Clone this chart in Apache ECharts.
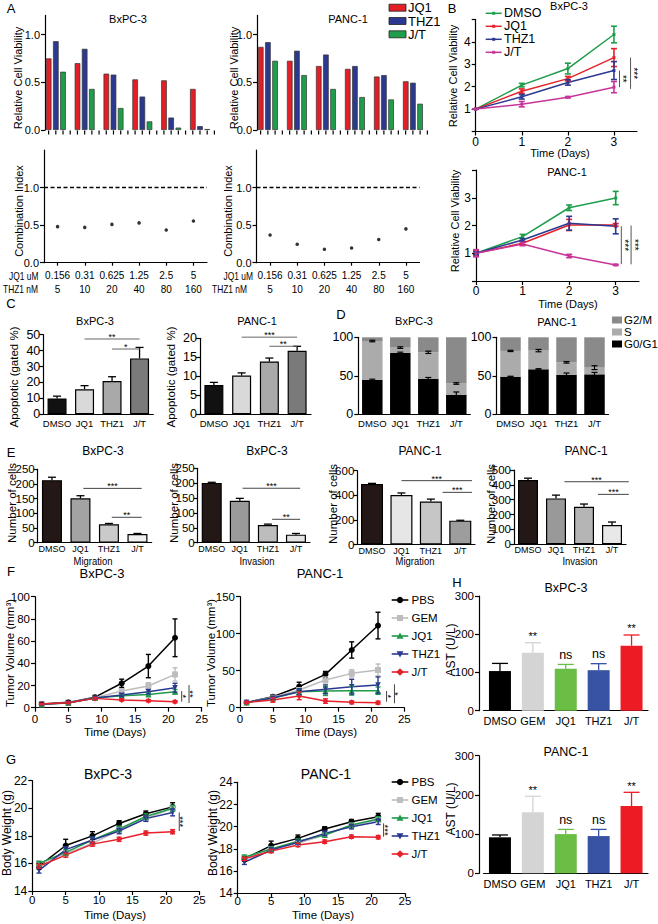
<!DOCTYPE html>
<html><head><meta charset="utf-8">
<script src="https://cdn.jsdelivr.net/npm/echarts@6/dist/echarts.min.js"></script>
<style>html,body{margin:0;padding:0;background:#fff}#c{width:658px;height:924px}</style>
</head><body><div id="c"></div>
<script>
// ================= DATA =================
// Panel A
const jq1Doses = ['0.156','0.31','0.625','1.25','2.5','5'];
const thz1Doses = ['5','10','20','40','80','160'];
const aBxJQ1  = [0.75, 0.70, 0.59, 0.53, 0.52, 0.43];
const aBxTHZ1 = [0.93, 0.85, 0.58, 0.35, 0.13, 0.04];
const aBxJT   = [0.61, 0.43, 0.23, 0.09, 0.025, 0.01];
const aPaJQ1  = [0.87, 0.725, 0.67, 0.64, 0.56, 0.51];
const aPaTHZ1 = [0.92, 0.83, 0.79, 0.67, 0.575, 0.495];
const aPaJT   = [0.725, 0.575, 0.43, 0.345, 0.32, 0.275];
const ciBx = [0.48, 0.47, 0.51, 0.53, 0.435, 0.555];
const ciPa = [0.37, 0.245, 0.18, 0.196, 0.31, 0.45];
const aTicks = [0, 0.5, 1.0];
// Panel B
const bDays = [0, 1, 2, 3];
const bBxDMSO = [1, 2.07, 2.81, 4.33], bBxDMSOe = [0, 0.08, 0.24, 0.37];
const bBxJQ1  = [1, 1.80, 2.36, 3.30], bBxJQ1e  = [0, 0.10, 0.10, 0.40];
const bBxTHZ1 = [1, 1.55, 2.19, 2.72], bBxTHZ1e = [0, 0.10, 0.12, 0.40];
const bBxJT   = [1, 1.22, 1.53, 1.98], bBxJTe   = [0, 0.12, 0.03, 0.25];
const bPaDMSO = [1, 1.60, 2.64, 2.99], bPaDMSOe = [0.08, 0.08, 0.10, 0.24];
const bPaJQ1  = [1, 1.36, 2.02, 2.02], bPaJQ1e  = [0.10, 0.06, 0.20, 0.05];
const bPaTHZ1 = [1, 1.48, 2.08, 1.97], bPaTHZ1e = [0.05, 0.05, 0.25, 0.27];
const bPaJT   = [1, 1.33, 0.90, 0.58], bPaJTe   = [0.13, 0.06, 0.06, 0.02];
const bXTicks = [0, 1, 2, 3];
const bBxYLabels = [1, 2, 3, 4], bBxYTicks = [0, 1, 2, 3, 4, 5];
const bPaYLabels = [1, 2, 3], bPaYTicks = [0, 1, 2, 3, 4];
const bSigBx = ['**', '***'], bSigPa = ['***', '***'];
// Panel C
const cCats = ['DMSO', 'JQ1', 'THZ1', 'J/T'];
const cBx = [10, 15.7, 20.9, 35.1], cBxE = [1.4, 2.3, 2.7, 6.9];
const cPa = [7.7, 10.2, 13.9, 16.7], cPaE = [0.7, 0.7, 0.9, 1.2];
const cBxTicks = [0, 10, 20, 30, 40, 50], cPaTicks = [0, 5, 10, 15, 20];
const cSigBx = ['**', '*'], cSigPa = ['***', '**'];
// Panel D
const dBxG0 = [44.6, 79.7, 46.3, 25.5], dBxS = [50.6, 6.9, 34.2, 14.5], dBxG2 = [4.8, 13.4, 19.5, 60.0];
const dBxG0e = [1.0, 1.0, 1.5, 3.5], dBxSe = [1.0, 1.0, 1.5, 1.0];
const dPaG0 = [48.9, 58.4, 51.1, 51.9], dPaS = [33.4, 24.3, 16.4, 8.7], dPaG2 = [17.7, 17.3, 32.5, 39.4];
const dPaG0e = [0.5, 0.8, 2.5, 2.5], dPaSe = [0.8, 1.5, 1.0, 2.5];
const dTicks = [0, 50, 100];
const dPhases = ['G2/M', 'S', 'G0/G1'];
// Panel E
const eBxMig = [213, 151, 62.5, 29.5], eBxMigE = [10, 9, 3, 2];
const eBxInv = [201, 141, 59.4, 27],   eBxInvE = [2, 8, 3, 4];
const ePaMig = [492, 403, 350, 194],   ePaMigE = [5, 16, 19, 3];
const ePaInv = [433, 309, 253, 130],   ePaInvE = [12, 22, 18, 20];
const eBxTicks = [0, 50, 100, 150, 200, 250];
const ePaMigTicks = [0, 200, 400, 600], ePaInvTicks = [0, 100, 200, 300, 400, 500];
// Panel F
const fDays = [1, 5, 9, 13, 17, 21];
const fBxPBS  = [3.3, 4.8, 9.5, 22, 37.5, 63],  fBxPBSe  = [0.8, 1, 1, 3.7, 10.5, 17];
const fBxGEM  = [3.1, 4.5, 9.0, 15, 19.5, 30],  fBxGEMe  = [0.5, 0.8, 1, 2, 3, 6];
const fBxJQ1  = [3.0, 4.3, 8.7, 10.8, 12, 14.4], fBxJQ1e = [0.5, 0.7, 1, 1.5, 1.5, 2];
const fBxTHZ1 = [3.0, 4.4, 8.8, 11.4, 14.4, 18], fBxTHZ1e = [0.5, 0.7, 1, 1.5, 2, 4];
const fBxJT   = [3.3, 4.5, 8.4, 7.0, 6.3, 5.4], fBxJTe   = [0.5, 0.7, 1, 1, 1, 1];
const fPaPBS  = [7, 14.9, 28.4, 45, 78, 111], fPaPBSe  = [1, 2, 6, 4, 11, 18];
const fPaGEM  = [7, 14, 24, 37.4, 46.4, 51],  fPaGEMe  = [1, 2, 3, 4, 5, 8];
const fPaJQ1  = [7, 12.6, 21.6, 22.5, 23, 23], fPaJQ1e = [1, 2, 4, 6, 6, 5];
const fPaTHZ1 = [7, 13.5, 21.6, 24.8, 28.4, 30.6], fPaTHZ1e = [1, 2, 4, 6, 10, 11];
const fPaJT   = [7, 10.4, 15.8, 9, 7.2, 6.8], fPaJTe = [1, 3, 5, 3, 2, 2];
const fXTicks = [0, 5, 10, 15, 20, 25];
const fBxYTicks = [0, 20, 40, 60, 80, 100], fPaYTicks = [0, 50, 100, 150];
const fSigBx = ['*', '**'], fSigPa = ['*', '*'];
// Panel G
const gBxPBS  = [15.8, 17.3, 18.0, 18.9, 19.6, 20.1], gBxPBSe = [0.2, 0.45, 0.3, 0.2, 0.2, 0.3];
const gBxGEM  = [16.0, 16.7, 17.45, 18.4, 19.25, 20.0], gBxGEMe = [0.15, 0.2, 0.2, 0.2, 0.2, 0.2];
const gBxJQ1  = [16.0, 16.8, 17.7, 18.5, 19.4, 20.0], gBxJQ1e = [0.15, 0.2, 0.2, 0.2, 0.2, 0.2];
const gBxTHZ1 = [15.5, 17.0, 17.7, 18.35, 19.25, 19.7], gBxTHZ1e = [0.2, 0.2, 0.2, 0.2, 0.2, 0.25];
const gBxJT   = [15.8, 16.6, 17.4, 17.75, 18.2, 18.3], gBxJTe = [0.15, 0.15, 0.15, 0.15, 0.15, 0.15];
const gPaPBS  = [17.1, 18.3, 18.95, 19.8, 20.45, 20.9], gPaPBSe = [0.2, 0.4, 0.3, 0.2, 0.2, 0.3];
const gPaGEM  = [17.2, 18.0, 18.5, 19.25, 20.1, 20.6], gPaGEMe = [0.2, 0.2, 0.2, 0.2, 0.2, 0.2];
const gPaJQ1  = [17.25, 18.0, 18.7, 19.25, 20.15, 20.7], gPaJQ1e = [0.2, 0.2, 0.2, 0.2, 0.2, 0.2];
const gPaTHZ1 = [16.8, 17.9, 18.6, 19.4, 20.0, 20.45], gPaTHZ1e = [0.2, 0.2, 0.2, 0.2, 0.2, 0.25];
const gPaJT   = [17.1, 17.8, 18.35, 18.65, 19.1, 19.05], gPaJTe = [0.15, 0.15, 0.15, 0.15, 0.15, 0.15];
const gBxYTicks = [14, 16, 18, 20, 22], gPaYTicks = [14, 16, 18, 20, 22, 24];
const gSig = ['***'];
// Panel H
const hCats = ['DMSO', 'GEM', 'JQ1', 'THZ1', 'J/T'];
const hBx = [103.7, 151.7, 110, 106, 170], hBxE = [20, 26, 11, 17, 28];
const hPa = [91.8, 155.5, 100, 95, 171.6], hPaE = [6, 41, 12, 17, 35];
const hSig = ['', '**', 'ns', 'ns', '**'];
const hTicks = [0, 100, 200, 300];

// ================= BUILD =================
const FF = "'Liberation Sans', Arial, Helvetica, sans-serif";
const grid = [], xAxis = [], yAxis = [], series = [], graphic = [];
const G = (l, t, r, b) => { grid.push({left: l, top: t, width: r - l, height: b - t}); return grid.length - 1; };
const X = c => { xAxis.push(c); return xAxis.length - 1; };
const Y = c => { yAxis.push(c); return yAxis.length - 1; };

function valAx(gi, min, max, labs, ticks, fs, fmt, extra, margin) {
  const a = {gridIndex: gi, type: 'value', min, max, splitLine: {show: false},
    axisLine: {show: true, onZero: false, lineStyle: {color: '#000', width: 1.2}},
    axisTick: {show: true, length: 4, lineStyle: {color: '#000', width: 1.2}, customValues: ticks},
    axisLabel: {color: '#000', fontSize: fs, fontFamily: FF, margin: margin == null ? 5 : margin, customValues: labs}};
  if (fmt) a.axisLabel.formatter = fmt;
  return Object.assign(a, extra || {});
}
function catAx(gi, data, fs, o = {}) {
  const a = {gridIndex: gi, type: 'category', data, position: 'bottom',
    axisLine: {show: true, onZero: false, lineStyle: {color: '#000', width: 1.2}},
    axisTick: {show: !!o.tick, alignWithLabel: true, length: 3, lineStyle: {color: '#000', width: 1.2}},
    axisLabel: {color: '#000', fontSize: fs, fontFamily: FF, margin: o.margin == null ? 4 : o.margin, interval: 0}};
  if (o.lh) a.axisLabel.lineHeight = o.lh;
  return a;
}
function pt(api, x, y) {
  const xi = Math.floor(x), f = x - xi;
  const p = api.coord([xi, y]); const s = api.size([1, 0]);
  return [p[0] + f * s[0], p[1]];
}
function txtStyle(text, fs, align, va) {
  return {text, fill: '#000', fontSize: fs, fontFamily: FF, align: align || 'center', verticalAlign: va || 'middle',
    textAlign: align || 'center', textVerticalAlign: va || 'middle'};
}
function errBars(xi, yi, xs, ys, es, color, o = {}) {
  series.push({type: 'custom', xAxisIndex: xi, yAxisIndex: yi, silent: true, clip: false, z: o.z || 4,
    data: ys.map((y, i) => [xs[i], y, es[i]]),
    renderItem(params, api) {
      const c = Array.isArray(color) ? color[params.dataIndex] : color;
      const x = api.value(0), y = api.value(1), e = api.value(2);
      const top = api.coord([x, y + e]), bot = api.coord([x, o.up ? y : y - e]);
      const w = o.cap || 3, st = {stroke: c, lineWidth: o.lw || 1.2};
      const ch = [{type: 'line', shape: {x1: top[0], y1: top[1], x2: bot[0], y2: bot[1]}, style: st},
                  {type: 'line', shape: {x1: top[0] - w, y1: top[1], x2: top[0] + w, y2: top[1]}, style: st}];
      if (!o.up) ch.push({type: 'line', shape: {x1: bot[0] - w, y1: bot[1], x2: bot[0] + w, y2: bot[1]}, style: st});
      return {type: 'group', children: ch};
    }});
}
function brackets(xi, yi, items, labels, o = {}) {
  series.push({type: 'custom', xAxisIndex: xi, yAxisIndex: yi, silent: true, clip: false, z: 6,
    data: items.map(it => [it[0], it[1]]),
    renderItem(params, api) {
      const it = items[params.dataIndex];
      const p1 = pt(api, it[0], it[1]), p2 = pt(api, it[2], it[3]);
      const st = {stroke: o.color || '#444', lineWidth: o.lw || 1};
      const ch = [{type: 'line', shape: {x1: p1[0], y1: p1[1], x2: p2[0], y2: p2[1]}, style: st}];
      const lab = labels[params.dataIndex];
      if (Math.abs(p1[0] - p2[0]) < 1) {
        ch.push({type: 'text', x: p1[0] + (o.dx == null ? 3 : o.dx), y: (p1[1] + p2[1]) / 2, rotation: -Math.PI / 2,
          style: txtStyle(lab, o.fs || 10)});
      } else {
        ch.push({type: 'text', x: (p1[0] + p2[0]) / 2, y: p1[1] - (o.dy == null ? 2 : o.dy), style: txtStyle(lab, o.fs || 10)});
      }
      return {type: 'group', children: ch};
    }});
}
function sigLabels(xi, yi, xs, tops, labels) {
  series.push({type: 'custom', xAxisIndex: xi, yAxisIndex: yi, silent: true, clip: false, z: 6,
    data: tops.map((t, i) => [xs[i], t]),
    renderItem(params, api) {
      const p = api.coord([api.value(0), api.value(1)]);
      const lab = labels[params.dataIndex];
      const isStar = lab.indexOf('*') >= 0;
      return {type: 'text', x: p[0], y: p[1] - (isStar ? 1 : 3), style: txtStyle(lab, isStar ? 11 : 12.5, 'center', 'bottom')};
    }});
}
function T(text, x, y, o = {}) {
  graphic.push({type: 'text', x, y, rotation: o.rot || 0, scaleX: o.sx || 1, silent: true, z: 100,
    style: Object.assign(txtStyle(text, o.fs || 11, o.align || 'center', 'middle'), {fontWeight: o.fw || 'normal'})});
}
const idx = a => a.map((_, i) => i);
const f1 = v => v.toFixed(1);

// ---- Panel A ----
const RED = '#e41e26', BLUE = '#2b3990', GREEN = '#1e9e4b';
function aViab(box, jq, th, jt) {
  const g = G(...box);
  const xi = X({gridIndex: g, type: 'category', position: 'bottom', data: jq1Doses, axisLine: {show: false}, axisTick: {show: false}, axisLabel: {show: false}});
  const yi = Y(valAx(g, 0, 1.2, aTicks, aTicks, 11, f1));
  [[jq, RED], [th, BLUE], [jt, GREEN], [[], 'rgba(0,0,0,0)']].forEach(([d, c]) => series.push({
    type: 'bar', xAxisIndex: xi, yAxisIndex: yi, data: d, barWidth: 5.6, barGap: '28%', silent: true,
    itemStyle: {color: c, borderColor: '#333', borderWidth: 0.7}}));
  // one tick under every bar slot (4 slots per dose group)
  series.push({type: 'custom', xAxisIndex: xi, yAxisIndex: yi, silent: true, clip: false, z: 5,
    data: jq1Doses.map((_, i) => [i, 0]),
    renderItem(params, api) {
      const p = api.coord([api.value(0), 0]), bw = api.size([1, 0])[0], ch = [];
      for (let k = 0; k < 4; k++) {
        const x = p[0] + (k - 1.5) * bw / 4;
        ch.push({type: 'line', shape: {x1: x, y1: p[1] + 0.5, x2: x, y2: p[1] + 4.5}, style: {stroke: '#000', lineWidth: 1.2}});
      }
      return {type: 'group', children: ch};
    }});
}
function aCI(box, ci) {
  const g = G(...box);
  const xi = X(catAx(g, jq1Doses.map((d, i) => d + '\n' + thz1Doses[i]), 10, {tick: true, lh: 13.6, margin: 6}));
  const yi = Y(valAx(g, 0, 1.5, aTicks, aTicks, 11, f1));
  series.push({type: 'scatter', xAxisIndex: xi, yAxisIndex: yi, data: ci, symbolSize: 3.5, itemStyle: {color: '#000'}, silent: true,
    markLine: {silent: true, symbol: 'none', label: {show: false}, lineStyle: {color: '#000', type: [4, 2.5], width: 1.3}, data: [{yAxis: 1}]}});
}
aViab([45, 15.4, 218, 130], aBxJQ1, aBxTHZ1, aBxJT);
aViab([257, 15.4, 431, 130], aPaJQ1, aPaTHZ1, aPaJT);
aCI([44, 150, 207, 262.7], ciBx);
aCI([256.5, 150, 419.5, 262.7], ciPa);

// ---- Panel B ----
const bColors = ['#1e9e4b', '#e62129', '#2b3990', '#c8359a'];
function bPanel(box, ymax, yl, yt, sets, brk, sig) {
  const g = G(...box);
  const xi = X(valAx(g, 0, 3.5, bXTicks, bXTicks, 12, null, null, 4));
  const yi = Y(valAx(g, 0, ymax, yl, yt, 12));
  sets.forEach(([d, e], k) => {
    const c = bColors[k];
    series.push({type: 'line', xAxisIndex: xi, yAxisIndex: yi, data: bDays.map((x, i) => [x, d[i]]), silent: true,
      lineStyle: {color: c, width: 1.5}, itemStyle: {color: c}, symbol: 'rect', symbolSize: 3, z: 3});
    errBars(xi, yi, bDays, d, e, c, {cap: 3, lw: 1.6});
  });
  brackets(xi, yi, brk, sig, {color: '#555', fs: 10, dx: 3});
}
bPanel([475.7, 19.5, 637, 131.5], 5, bBxYLabels, bBxYTicks,
  [[bBxDMSO, bBxDMSOe], [bBxJQ1, bBxJQ1e], [bBxTHZ1, bBxTHZ1e], [bBxJT, bBxJTe]],
  [[3.12, 2.72, 3.12, 1.98], [3.36, 3.3, 3.36, 1.9]], bSigBx);
bPanel([476, 170, 639, 281], 4, bPaYLabels, bPaYTicks,
  [[bPaDMSO, bPaDMSOe], [bPaJQ1, bPaJQ1e], [bPaTHZ1, bPaTHZ1e], [bPaJT, bPaJTe]],
  [[3.12, 1.97, 3.12, 0.61], [3.33, 2.0, 3.33, 0.6]], bSigPa);

// ---- generic bar panel ----
function barPanel(box, cats, vals, errs, colors, yMax, yl, o) {
  const g = G(...box);
  const xi = X(catAx(g, cats, o.xfs || 10, {margin: o.xm}));
  const yi = Y(valAx(g, 0, yMax, yl, yl, o.yfs || 12, null, o.yoff ? {offset: o.yoff} : null, o.ym));
  series.push({type: 'bar', xAxisIndex: xi, yAxisIndex: yi, barWidth: o.bw, silent: true,
    data: vals.map((v, i) => ({value: v, itemStyle: {color: colors[i]}})),
    itemStyle: {borderColor: '#000', borderWidth: o.border == null ? 1.2 : o.border}});
  errBars(xi, yi, idx(cats), vals, errs, o.errColor || '#000', {up: true, cap: o.cap || 4, lw: 1.3});
  return {xi, yi};
}

// ---- Panel C ----
const cColors = ['#111111', '#d9d9d9', '#a9a9a9', '#7a7a7a'];
const co = {bw: 19, yfs: 12.5, xfs: 9.5, xm: 4, ym: 3};
let r = barPanel([43.3, 334.7, 153.3, 414.3], cCats, cBx, cBxE, cColors, 50, cBxTicks, co);
brackets(r.xi, r.yi, [[1, 47.3, 3, 47.3], [2, 41, 3, 41]], cSigBx, {color: '#666', fs: 9});
r = barPanel([200, 338.3, 311, 414.3], cCats, cPa, cPaE, cColors, 20, cPaTicks, co);
brackets(r.xi, r.yi, [[1, 20.3, 3, 20.3], [2, 17.9, 3, 17.9]], cSigPa, {color: '#666', fs: 9});

// ---- Panel D ----
const dColors = ['#000000', '#ababab', '#8a8a8a'];
function dPanel(box, g0, s, g2, g0e, se) {
  const g = G(...box);
  const xi = X(catAx(g, cCats, 9.5, {margin: 4}));
  const yi = Y(valAx(g, 0, 100, dTicks, dTicks, 12.5));
  [[g0, dColors[0]], [s, dColors[1]], [g2, dColors[2]]].forEach(([d, c]) => series.push({
    type: 'bar', stack: 'd' + g, xAxisIndex: xi, yAxisIndex: yi, barWidth: 20.5, data: d, silent: true,
    itemStyle: {color: c}}));
  errBars(xi, yi, idx(cCats), g0, g0e, '#000', {cap: 3});
  errBars(xi, yi, idx(cCats), g0.map((v, i) => v + s[i]), se, '#000', {cap: 3});
}
dPanel([358.3, 337.3, 470.3, 414.3], dBxG0, dBxS, dBxG2, dBxG0e, dBxSe);
dPanel([496.5, 337.3, 608.5, 414.3], dPaG0, dPaS, dPaG2, dPaG0e, dPaSe);

// ---- Panel E ----
const eo = {bw: 20, yfs: 11.5, xfs: 9, xm: 1.5, ym: 3};
r = barPanel([37.7, 469.3, 151.7, 542.7], cCats, eBxMig, eBxMigE, ['#231815', '#a3a3a3', '#cacaca', '#f0f0f0'], 250, eBxTicks, eo);
brackets(r.xi, r.yi, [[1.1, 185, 3.15, 185], [2.1, 86.5, 3.15, 86.5]], ['***', '**'], {color: '#444', fs: 9});
r = barPanel([197.7, 468.3, 310, 542.7], cCats, eBxInv, eBxInvE, ['#231815', '#9a9a9a', '#bdbdbd', '#e4e4e4'], 250, eBxTicks, eo);
brackets(r.xi, r.yi, [[1.1, 183, 3.15, 183], [2.15, 78.6, 3.15, 78.6]], ['***', '**'], {color: '#444', fs: 9});
r = barPanel([357.3, 470.7, 475, 544.5], cCats, ePaMig, ePaMigE, ['#231815', '#e6e6e6', '#c6c6c6', '#9d9d9d'], 600, ePaMigTicks, Object.assign({}, eo, {bw: 22}));
brackets(r.xi, r.yi, [[1.0, 519, 3.4, 519], [2.4, 424, 3.4, 424]], ['***', '***'], {color: '#444', fs: 9});
r = barPanel([514, 470, 626, 544.3], cCats, ePaInv, ePaInvE, ['#231815', '#999999', '#b5b5b5', '#e8e8e8'], 500, ePaInvTicks, eo);
brackets(r.xi, r.yi, [[1.3, 421, 3.6, 421], [2.5, 336, 3.6, 336]], ['***', '***'], {color: '#444', fs: 9});

// ---- Panels F & G ----
const fgNames = ['PBS', 'GEM', 'JQ1', 'THZ1', 'J/T'];
const fgColors = ['#000000', '#bdbdbd', '#1f9a4a', '#2a3990', '#e8202a'];
const fgSymbols = ['circle', 'rect', 'triangle', 'path://M0,0L10,0L5,10Z', 'diamond'];
function linePanel(box, ymin, ymax, yt, xt, sets, brk, sig, o = {}) {
  const g = G(...box);
  const xi = X(valAx(g, 0, 25, xt, xt, o.xfs || 11.5, null, null, o.xm == null ? 5 : o.xm));
  const yi = Y(valAx(g, ymin, ymax, yt, yt, o.yfs || 11.5));
  sets.forEach(([d, e], k) => {
    const c = fgColors[k];
    series.push({type: 'line', xAxisIndex: xi, yAxisIndex: yi, data: fDays.map((x, i) => [x, d[i]]), silent: true,
      lineStyle: {color: c, width: 1.5}, itemStyle: {color: c}, symbol: fgSymbols[k], symbolSize: k === 3 ? 5.5 : 6, z: 3 + k * 0.01});
    errBars(xi, yi, fDays, d, e, c, {cap: 2.5, lw: 1.4});
  });
  brackets(xi, yi, brk, sig, {color: '#444', fs: 9.5, dx: 1.5});
}
linePanel([35, 596.7, 201.7, 707.7], 0, 100, fBxYTicks, fXTicks,
  [[fBxPBS, fBxPBSe], [fBxGEM, fBxGEMe], [fBxJQ1, fBxJQ1e], [fBxTHZ1, fBxTHZ1e], [fBxJT, fBxJTe]],
  [[22.0, 15.0, 22.0, 5.4], [23.1, 20.4, 23.1, 4.2]], fSigBx);
linePanel([240, 596.7, 404.3, 707.7], 0, 150, fPaYTicks, fXTicks,
  [[fPaPBS, fPaPBSe], [fPaGEM, fPaGEMe], [fPaJQ1, fPaJQ1e], [fPaTHZ1, fPaTHZ1e], [fPaJT, fPaJTe]],
  [[22.3, 22.6, 22.3, 8.1], [23.5, 31.6, 23.5, 5.9]], fSigPa);
linePanel([32.3, 780.7, 199.3, 891], 14, 22, gBxYTicks, fXTicks,
  [[gBxPBS, gBxPBSe], [gBxGEM, gBxGEMe], [gBxJQ1, gBxJQ1e], [gBxTHZ1, gBxTHZ1e], [gBxJT, gBxJTe]],
  [[22.0, 19.7, 22.0, 18.35]], gSig, {yfs: 12, xfs: 11.5, xm: 3});
linePanel([237.7, 782.3, 405, 893.3], 14, 24, gPaYTicks, fXTicks,
  [[gPaPBS, gPaPBSe], [gPaGEM, gPaGEMe], [gPaJQ1, gPaJQ1e], [gPaTHZ1, gPaTHZ1e], [gPaJT, gPaJTe]],
  [[21.8, 20.3, 21.8, 19.1]], gSig, {yfs: 12, xfs: 11.5, xm: 2});

// ---- Panel H ----
const hColors = ['#000000', '#d4d4d4', '#6abd45', '#3953a4', '#ed1c24'];
const ho = {bw: 22, yfs: 11.5, xfs: 11, xm: 5, yoff: 4.5, border: 0, errColor: hColors, cap: 8};
r = barPanel([483.5, 596, 648, 710.7], hCats, hBx, hBxE, hColors, 300, hTicks, ho);
sigLabels(r.xi, r.yi, idx(hCats), hBx.map((v, i) => v + hBxE[i]), hSig);
r = barPanel([483.5, 755.7, 648, 873.3], hCats, hPa, hPaE, hColors, 300, hTicks, ho);
sigLabels(r.xi, r.yi, idx(hCats), hPa.map((v, i) => v + hPaE[i]), hSig);

// ================= TEXT / LEGENDS =================
[['A', 11, 8], ['B', 452, 8], ['C', 11, 303], ['D', 341, 314], ['E', 11, 452], ['F', 11, 571], ['G', 11, 759], ['H', 457, 582]]
  .forEach(([t, x, y]) => T(t, x, y, {fs: 13}));
T('BxPC-3', 128, 19); T('PANC-1', 348, 19);
T('BxPC-3', 569, 6); T('PANC-1', 567, 172);
T('BxPC-3', 95, 321); T('PANC-1', 257, 321);
T('BxPC-3', 414, 321); T('PANC-1', 557, 322);
T('BxPC-3', 103, 451, {fs: 12}); T('BxPC-3', 267, 451, {fs: 12}); T('PANC-1', 420, 451, {fs: 12}); T('PANC-1', 586, 451, {fs: 12});
T('BxPC-3', 102, 573, {fs: 13}); T('PANC-1', 320, 573, {fs: 13});
T('BxPC-3', 108, 774, {fs: 14}); T('PANC-1', 326, 774, {fs: 14});
T('BxPC-3', 566, 588, {fs: 12.5}); T('PANC-1', 566, 752, {fs: 12.5});
const R = Math.PI / 2;
T('Relative Cell Viability', 18, 78, {rot: R}); T('Relative Cell Viability', 234, 78, {rot: R});
T('Combination Index', 19, 211, {rot: R}); T('Combination Index', 228, 211, {rot: R});
T('Relative Cell Viability', 453, 76, {rot: R}); T('Relative Cell Viability', 455, 221, {rot: R});
T('Time (Days)', 560, 153); T('Time (Days)', 568, 304);
T('Apoptotic (gated %)', 14, 377, {rot: R, fs: 11.5}); T('Apoptotic (gated %)', 171, 377, {rot: R, fs: 11.5});
T('Number of cells', 12, 503, {rot: R, fs: 11.5}); T('Number of cells', 174, 503, {rot: R, fs: 11.5});
T('Number of cells', 333, 504, {rot: R, fs: 11.5}); T('Number of cells', 491, 504, {rot: R, fs: 11.5});
T('Migration', 93, 561, {fs: 10.5, sx: 0.9}); T('Invasion', 257, 561, {fs: 10.5, sx: 0.9});
T('Migration', 415, 561, {fs: 10.5, sx: 0.9}); T('Invasion', 580, 561, {fs: 10.5, sx: 0.9});
T('Tumor Volume (mm³)', 10, 653, {rot: R, fs: 11.5}); T('Tumor Volume (mm³)', 211, 653, {rot: R, fs: 11.5});
T('Time (Days)', 115, 732, {fs: 11.5}); T('Time (Days)', 326, 732, {fs: 11.5});
T('Body Weight (g)', 7, 833, {rot: R, fs: 12}); T('Body Weight (g)', 213, 833, {rot: R, fs: 12});
T('Time (Days)', 115, 915, {fs: 11.5}); T('Time (Days)', 323, 915, {fs: 11.5});
T('AST (U/L)', 451, 650, {rot: R, fs: 12}); T('AST (U/L)', 451, 809, {rot: R, fs: 12});
T('JQ1 uM', 38.5, 276, {align: 'right', fs: 10.5, sx: 0.8}); T('THZ1 nM', 38, 289.5, {align: 'right', fs: 10.5, sx: 0.8});
T('JQ1 uM', 253, 276, {align: 'right', fs: 10.5, sx: 0.8}); T('THZ1 nM', 247, 289.5, {align: 'right', fs: 10.5, sx: 0.8});
['JQ1', 'THZ1', 'J/T'].forEach((n, i) => {
  graphic.push({type: 'rect', shape: {x: 389, y: 4.2 + 13.3 * i, width: 17, height: 7}, style: {fill: [RED, BLUE, GREEN][i], stroke: '#222', lineWidth: 0.8}, silent: true});
  T(n, 408, 7.7 + 13.3 * i, {align: 'left', fs: 13});
});
['DMSO', 'JQ1', 'THZ1', 'J/T'].forEach((n, i) => {
  const y = 13.3 + 13 * i, c = bColors[i];
  graphic.push({type: 'line', shape: {x1: 485.7, y1: y, x2: 501.7, y2: y}, style: {stroke: c, lineWidth: 1.5}, silent: true});
  graphic.push({type: 'rect', shape: {x: 492.2, y: y - 1.5, width: 3, height: 3}, style: {fill: c}, silent: true});
  T(n, 504, y, {align: 'left', fs: 12.5});
});
dPhases.forEach((n, i) => {
  graphic.push({type: 'rect', shape: {x: 612, y: 316.5 + 12 * i, width: 10, height: 7}, style: {fill: [dColors[2], dColors[1], dColors[0]][i]}, silent: true});
  T(n, 624, 320 + 12 * i, {align: 'left', fs: 11.5});
});
function fgLegend(y0) {
  fgNames.forEach((n, i) => {
    const y = y0 + 18 * i, c = fgColors[i], cx = 400;
    graphic.push({type: 'line', shape: {x1: 391.7, y1: y, x2: 408.3, y2: y}, style: {stroke: c, lineWidth: 1.6}, silent: true});
    let m;
    if (i === 0) m = {type: 'circle', shape: {cx, cy: y, r: 3.2}};
    else if (i === 1) m = {type: 'rect', shape: {x: cx - 3, y: y - 3, width: 6, height: 6}};
    else if (i === 2) m = {type: 'polygon', shape: {points: [[cx, y - 3.5], [cx + 3.5, y + 2.8], [cx - 3.5, y + 2.8]]}};
    else if (i === 3) m = {type: 'polygon', shape: {points: [[cx - 3.5, y - 2.8], [cx + 3.5, y - 2.8], [cx, y + 3.5]]}};
    else m = {type: 'polygon', shape: {points: [[cx, y - 3.8], [cx + 3.8, y], [cx, y + 3.8], [cx - 3.8, y]]}};
    m.style = {fill: c}; m.silent = true;
    graphic.push(m);
    T(n, 411.5, y, {align: 'left', fs: 11.5});
  });
}
fgLegend(600); fgLegend(782);

const chart = echarts.init(document.getElementById('c'), null, {renderer: 'svg', width: 658, height: 924});
chart.setOption({animation: false, backgroundColor: '#fff', grid, xAxis, yAxis, series, graphic: {elements: graphic}});
</script>
</body></html>
